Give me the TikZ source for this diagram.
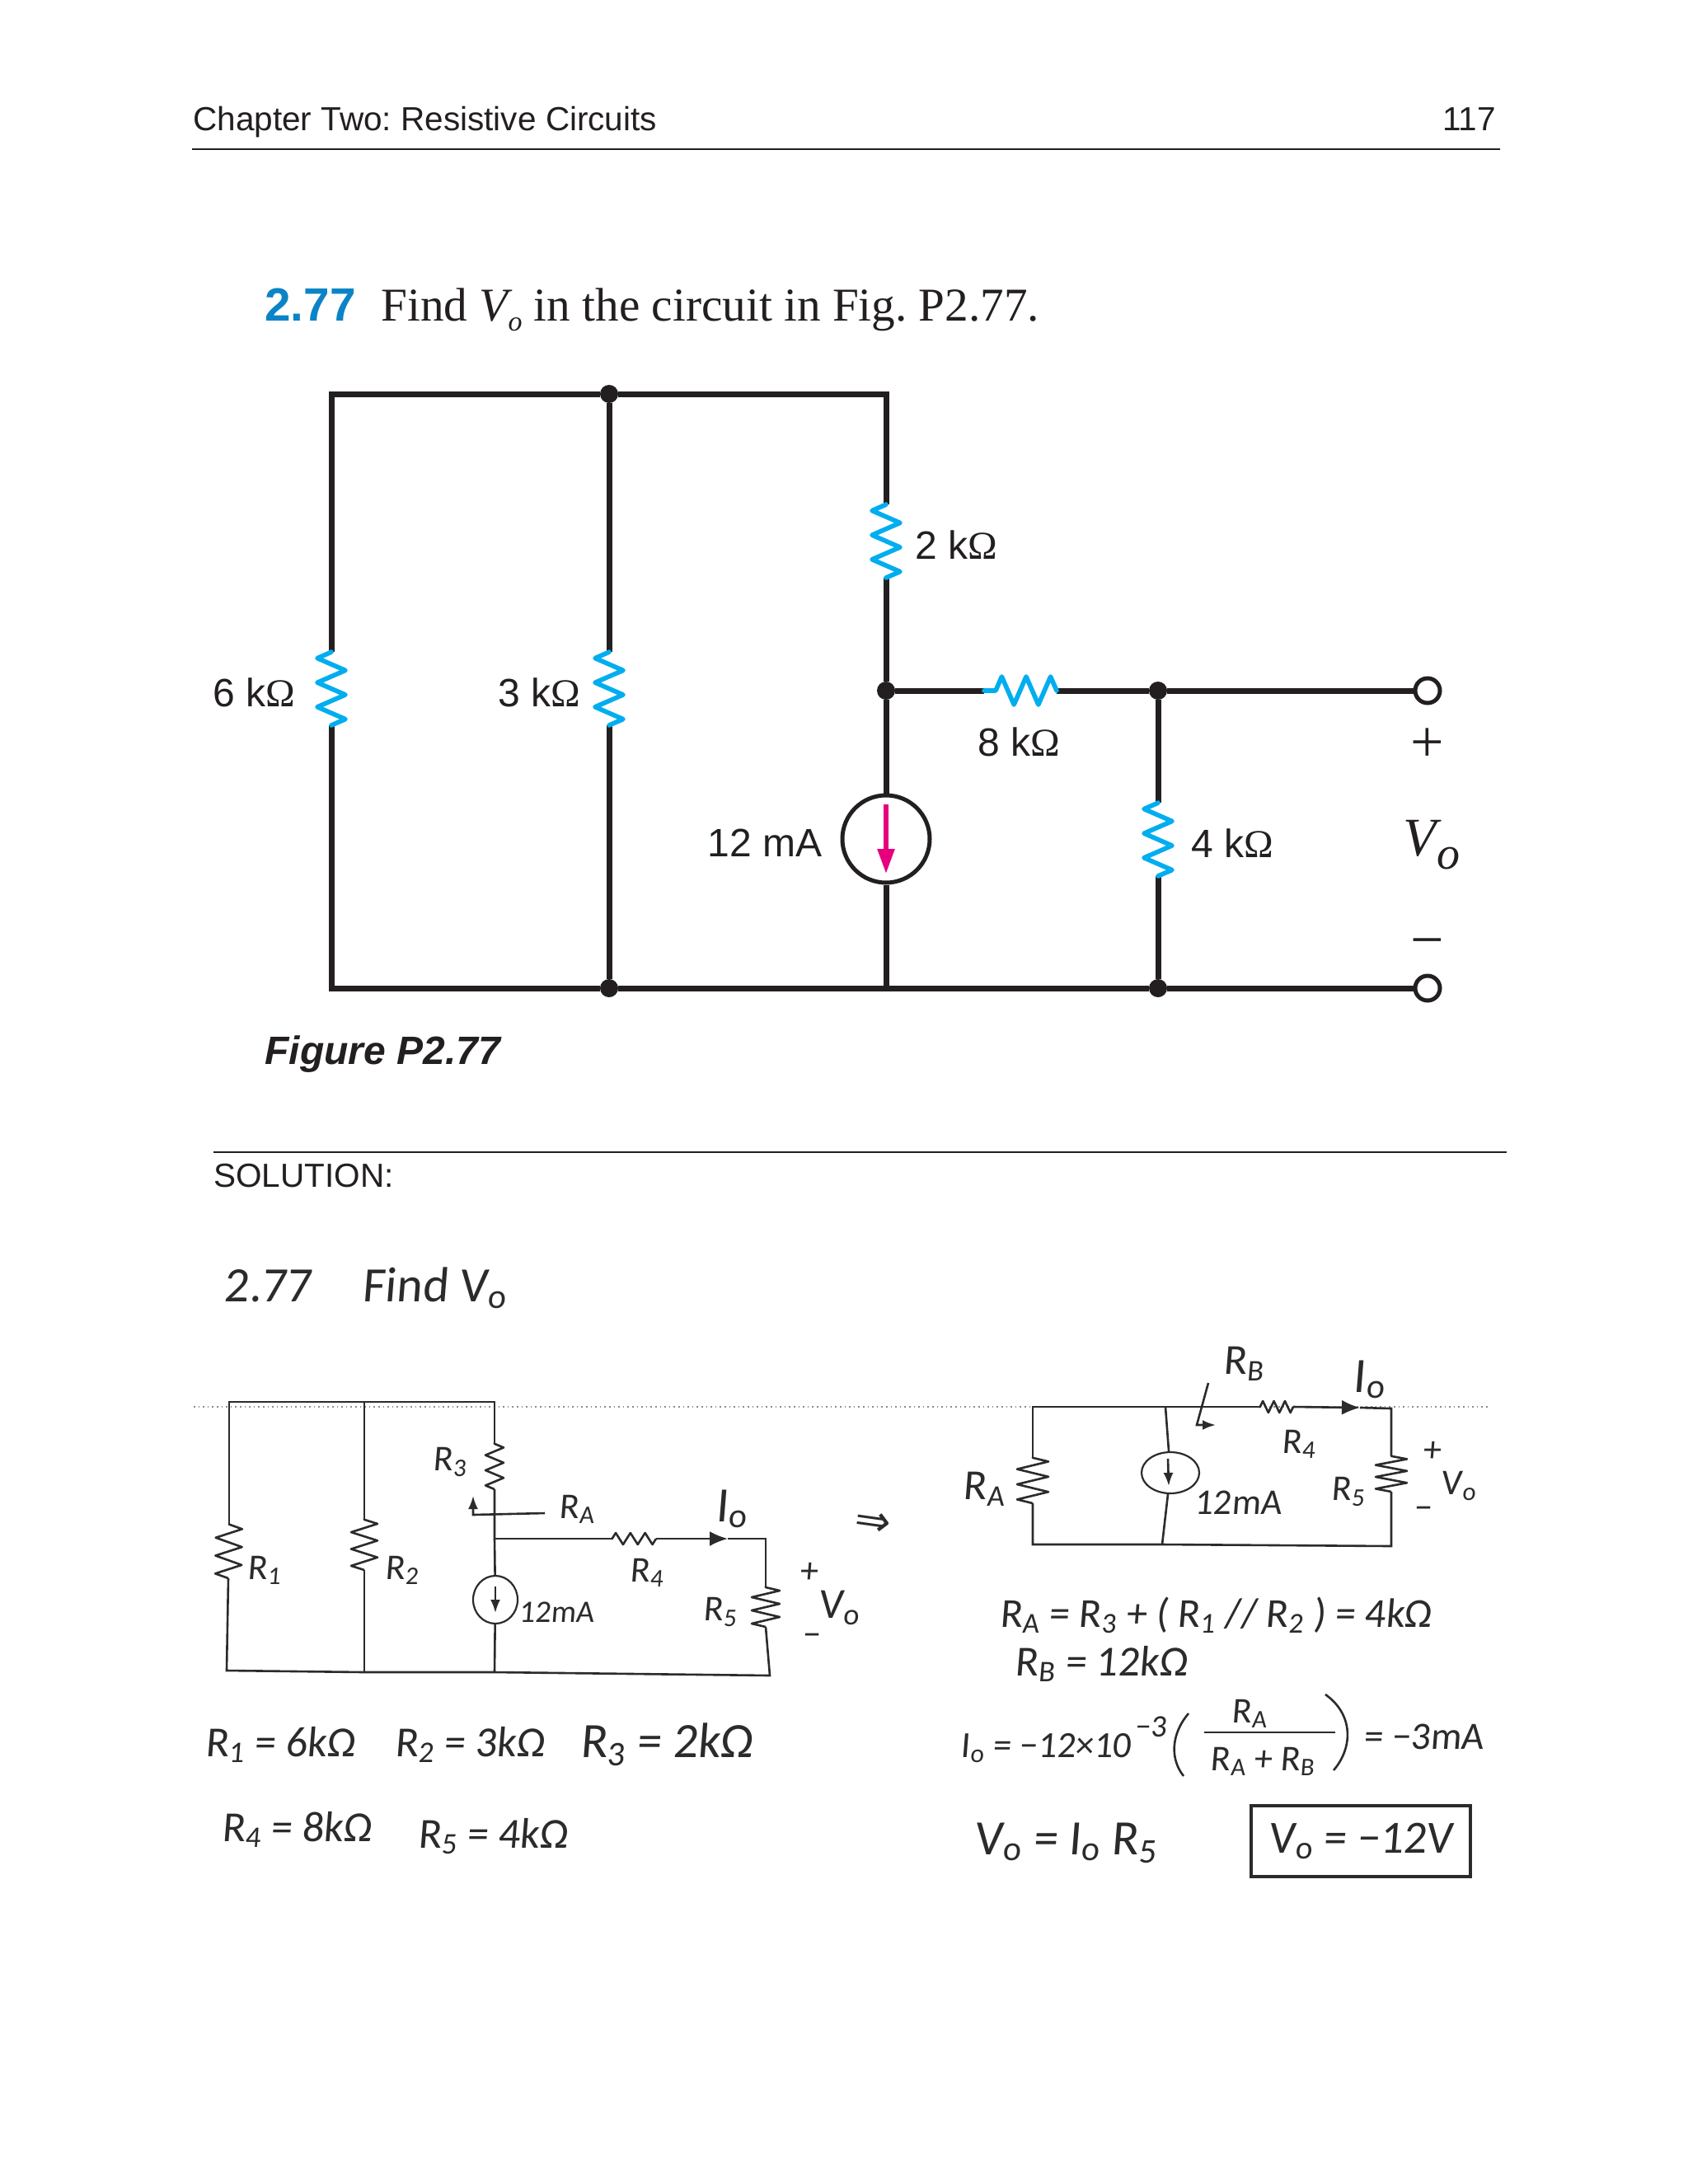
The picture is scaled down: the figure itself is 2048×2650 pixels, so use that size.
\documentclass[tikz,border=0pt]{standalone}
\usepackage{fontspec}
\setmainfont{Liberation Sans}
\newfontfamily\serifface{Liberation Serif}
\newfontfamily\handface[FakeSlant=0.08]{Carlito}
\newfontfamily\symface{DejaVu Sans}
\usepackage{tikz}
\usetikzlibrary{arrows.meta,decorations.pathmorphing,shapes.geometric}
\frenchspacing
\definecolor{ink}{HTML}{231F20}
\definecolor{resblue}{HTML}{00AEEF}
\definecolor{titleblue}{HTML}{0A84C6}
\definecolor{srcpink}{HTML}{E6007E}
\definecolor{handink}{HTML}{2B2B2B}
\newcommand{\Ohm}{{\serifface Ω}}
\newcommand{\hs}[1]{\textsubscript{#1}}
\tikzstyle{txt_base} = [inner sep=0pt, anchor=base west, text=ink]
\tikzstyle{txt_head} = [txt_base, font=\fontsize{20.25}{24}\selectfont]
\tikzstyle{txt_title} = [txt_base, font=\serifface\fontsize{28.6}{34}\selectfont]
\tikzstyle{txt_val} = [inner sep=0pt, text=ink, font=\fontsize{24}{28}\selectfont]
\tikzstyle{txt_sign} = [inner sep=0pt, text=ink, font=\serifface\fontsize{36}{40}\selectfont]
\tikzstyle{wire} = [line width=3.5pt, color=ink, line join=miter]
\tikzstyle{rule} = [line width=1pt, color=ink]
\tikzstyle{res_blue} = [line width=2.8pt, color=resblue, line join=round, line cap=round, decorate, decoration={zigzag, amplitude=-8.5pt, segment length=14.8pt}]
\tikzstyle{dot} = [circle, fill=ink, inner sep=0pt, minimum size=11pt]
\tikzstyle{term} = [circle, draw=ink, fill=white, line width=2.5pt, inner sep=0pt, minimum size=15pt]
\tikzstyle{src} = [circle, draw=ink, fill=white, line width=2.5pt, inner sep=0pt, minimum size=53pt]
\tikzstyle{src_arrow} = [line width=2.8pt, color=srcpink, -{Triangle[width=10pt,length=15pt]}]
\tikzstyle{hand_wire} = [line width=1.3pt, color=handink]
\tikzstyle{hand_arrow} = [hand_wire, -{Latex[length=8pt,width=6pt]}]
\tikzstyle{hand_tip} = [hand_wire, -{Latex[length=11pt,width=9pt]}]
\tikzstyle{hand_src} = [ellipse, draw=handink, line width=1.1pt, inner sep=0pt]
\tikzstyle{hand_s} = [inner sep=0pt, text=handink, font=\handface\fontsize{19}{22}\selectfont]
\tikzstyle{hand_m} = [inner sep=0pt, text=handink, font=\handface\fontsize{22}{26}\selectfont]
\tikzstyle{hand_l} = [inner sep=0pt, text=handink, font=\handface\fontsize{26}{30}\selectfont]
\tikzstyle{hand_xl} = [inner sep=0pt, text=handink, font=\handface\fontsize{30}{34}\selectfont]
\tikzstyle{scan_dots} = [line width=0.8pt, color=black!45, dotted]
\tikzset{hand_res/.style 2 args={line width=1.3pt, color=handink, line join=round, decorate, decoration={zigzag, amplitude=#1, segment length=#2}}}
\begin{document}
\begin{tikzpicture}[x=0.5pt,y=-0.5pt]
	\fill[white] (0,0) rectangle (2048,2650);
	\useasboundingbox (0,0) rectangle (2048,2650);

	\node (chapter) at (234,158) [txt_head] {Chapter Two: Resistive Circuits};
	\node (pageno) at (1815,158) [txt_head, anchor=base east] {117};
	\coordinate (headL) at (233,181);
	\coordinate (headR) at (1820,181);
	\draw[rule] (headL)--(headR);

	\node (probno) at (321,389) [txt_base, text=titleblue, font=\bfseries\fontsize{28.3}{34}\selectfont] {2.77};
	\node (probtext) at (462,389) [txt_title] {Find {\itshape V\raisebox{-6pt}{\fontsize{17}{20}\selectfont o}} in the circuit in Fig. P2.77.};

	\coordinate (TL) at (402,478);
	\node (JT) at (739,478) [dot] {};
	\coordinate (TR) at (1075,478);
	\coordinate (BL) at (402,1199);
	\node (JB) at (739,1199) [dot] {};
	\coordinate (JS) at (1075,1199);
	\node (JR) at (1405,1199) [dot] {};
	\node (TermB) at (1732,1199) [term] {};
	\node (JM) at (1075,838) [dot] {};
	\node (JN) at (1405,838) [dot] {};
	\node (TermA) at (1732,838) [term] {};
	\node (Src) at (1075,1018) [src] {};
	\coordinate (R6t) at (402,791);
	\coordinate (R6b) at (402,880);
	\coordinate (R3t) at (739,791);
	\coordinate (R3b) at (739,880);
	\coordinate (R2t) at (1075,612);
	\coordinate (R2b) at (1075,701);
	\coordinate (R8l) at (1194,838);
	\coordinate (R8r) at (1282,838);
	\coordinate (R4t) at (1405,974);
	\coordinate (R4b) at (1405,1063);
	\coordinate (SrcA) at (1075,976);
	\coordinate (SrcB) at (1075,1060);

	\draw[wire] (R6t)--(TL)--(JT)--(TR)--(R2t);
	\draw[wire] (JT)--(R3t);
	\draw[wire] (R6b)--(BL)--(JB)--(JS)--(JR)--(TermB);
	\draw[wire] (R3b)--(JB);
	\draw[wire] (R2b)--(JM)--(Src);
	\draw[wire] (Src)--(JS);
	\draw[wire] (JM)--(R8l);
	\draw[wire] (R8r)--(JN)--(TermA);
	\draw[wire] (JN)--(R4t);
	\draw[wire] (R4b)--(JR);
	\draw[res_blue] (R6b)--(R6t);
	\draw[res_blue] (R3b)--(R3t);
	\draw[res_blue] (R2b)--(R2t);
	\draw[res_blue] (R4b)--(R4t);
	\draw[res_blue] (R8r)--(R8l);
	\draw[src_arrow] (SrcA)--(SrcB);

	\node (lab6k) at (308,840) [txt_val] {6 k\Ohm};
	\node (lab3k) at (654,840) [txt_val] {3 k\Ohm};
	\node (lab2k) at (1160,661) [txt_val] {2 k\Ohm};
	\node (lab8k) at (1236,900) [txt_val] {8 k\Ohm};
	\node (lab4k) at (1495,1023) [txt_val] {4 k\Ohm};
	\node (lab12) at (928,1023) [txt_val] {12 mA};
	\node (plus) at (1732,904) [txt_sign] {+};
	\node (minus) at (1732,1152) [txt_sign] {−};
	\node (Vout) at (1737,1025) [inner sep=0pt, text=ink, font=\serifface\itshape\fontsize{33}{38}\selectfont] {V\raisebox{-8pt}{\fontsize{28}{32}\selectfont o}};

	\node (figcap) at (321,1291) [txt_base, font=\bfseries\itshape\fontsize{24}{28}\selectfont] {Figure P2.77};
	\coordinate (solL) at (259,1398);
	\coordinate (solR) at (1828,1398);
	\draw[rule] (solL)--(solR);
	\node (soltext) at (259,1440) [txt_head] {SOLUTION:};

	\coordinate (scanL) at (235,1707);
	\coordinate (scanR) at (1808,1707);
	\draw[scan_dots] (scanL)--(scanR);

	\node (handno) at (325,1560) [hand_xl] {2.77};
	\node (handfind) at (527,1563) [hand_xl] {Find V\hs{o}};

	\coordinate (aTL) at (278,1701);
	\coordinate (aTM) at (442,1701);
	\coordinate (aTR) at (600,1701);
	\coordinate (aBL) at (275,2027);
	\coordinate (aBM) at (442,2029);
	\coordinate (aBS) at (600,2029);
	\coordinate (aBR) at (934,2033);
	\coordinate (aR1t) at (278,1849);
	\coordinate (aR1b) at (277,1915);
	\coordinate (aR2t) at (442,1843);
	\coordinate (aR2b) at (442,1905);
	\coordinate (aR3t) at (600,1751);
	\coordinate (aR3b) at (600,1807);
	\coordinate (aJ) at (600,1867);
	\coordinate (aR4l) at (742,1867);
	\coordinate (aR4r) at (796,1867);
	\coordinate (aTip) at (883,1867);
	\coordinate (aCR) at (929,1867);
	\coordinate (aR5t) at (929,1925);
	\coordinate (aR5b) at (929,1974);
	\node (aSrc) at (601,1941) [hand_src, minimum width=54pt, minimum height=58pt, scale=0.5] {};
	\coordinate (aArrA) at (601,1925);
	\coordinate (aArrB) at (601,1957);
	\node (aRA) at (700,1831) [hand_m] {R\hs{A}};
	\coordinate (aRAs) at (661,1836);
	\coordinate (aRAk) at (574,1838);
	\coordinate (aRAup) at (574,1815);

	\draw[hand_wire] (aR1t)--(aTL)--(aTM)--(aTR)--(aR3t);
	\draw[hand_wire] (aTM)--(aR2t);
	\draw[hand_wire] (aR1b)--(aBL)--(aBM)--(aBS)--(aBR)--(aR5b);
	\draw[hand_wire] (aR2b)--(aBM);
	\draw[hand_wire] (aR3b)--(aJ)--(aSrc);
	\draw[hand_wire] (aSrc)--(aBS);
	\draw[hand_wire] (aJ)--(aR4l);
	\draw[hand_tip] (aR4r)--(aTip);
	\draw[hand_wire] (aTip)--(aCR)--(aR5t);
	\draw[hand_arrow] (aArrA)--(aArrB);
	\draw[hand_arrow] (aRAs)--(aRAk)--(aRAup);
	\draw[hand_res={8pt}{10.9pt}] (aR1b)--(aR1t);
	\draw[hand_res={8pt}{10.2pt}] (aR2b)--(aR2t);
	\draw[hand_res={5.5pt}{9.2pt}] (aR3b)--(aR3t);
	\draw[hand_res={8.5pt}{8pt}] (aR5b)--(aR5t);
	\draw[hand_res={3.5pt}{8.9pt}] (aR4r)--(aR4l);

	\node (aL1) at (321,1905) [hand_m] {R\hs{1}};
	\node (aL2) at (488,1905) [hand_m] {R\hs{2}};
	\node (aL3) at (546,1774) [hand_m] {R\hs{3}};
	\node (aL4) at (785,1908) [hand_m] {R\hs{4}};
	\node (aL5) at (874,1956) [hand_m] {R\hs{5}};
	\node (aLI) at (888,1831) [hand_xl] {I\hs{o}};
	\node (aL12) at (675,1956) [hand_s] {12mA};
	\node (aPlus) at (981,1908) [hand_m] {+};
	\node (aVo) at (1018,1951) [hand_l] {V\hs{o}};
	\node (aMinus) at (984,1990) [hand_m] {−};
	\node (aThen) at (1059,1849) [inner sep=0pt, text=handink, rotate=-8, font=\symface\fontsize{26}{30}\selectfont] {⇒};
	\node (aEq1) at (340,2117) [hand_l] {R\hs{1} = 6kΩ};
	\node (aEq2) at (570,2117) [hand_l] {R\hs{2} = 3kΩ};
	\node (aEq3) at (809,2117) [hand_xl] {R\hs{3} = 2kΩ};
	\node (aEq4) at (360,2220) [hand_l] {R\hs{4} = 8kΩ};
	\node (aEq5) at (598,2228) [hand_l] {R\hs{5} = 4kΩ};

	\coordinate (bTL) at (1253,1707);
	\coordinate (bTM) at (1414,1707);
	\coordinate (bBL) at (1253,1874);
	\coordinate (bBM) at (1410,1874);
	\coordinate (bBR) at (1688,1876);
	\coordinate (bRAt) at (1253,1768);
	\coordinate (bRAb) at (1253,1824);
	\coordinate (bR4l) at (1528,1707);
	\coordinate (bR4r) at (1569,1707);
	\coordinate (bTip) at (1650,1708);
	\coordinate (bCR) at (1688,1709);
	\coordinate (bR5t) at (1688,1766);
	\coordinate (bR5b) at (1688,1810);
	\node (bSrc) at (1420,1787) [hand_src, minimum width=70pt, minimum height=50pt, scale=0.5] {};
	\coordinate (bArrA) at (1417,1770);
	\coordinate (bArrB) at (1418,1803);
	\coordinate (bRBa) at (1466,1678);
	\coordinate (bRBk) at (1452,1729);
	\coordinate (bRBc) at (1475,1729);

	\draw[hand_wire] (bRAt)--(bTL)--(bTM)--(bR4l);
	\draw[hand_wire] (bRAb)--(bBL)--(bBM)--(bBR)--(bR5b);
	\draw[hand_wire] (bTM)--(bSrc);
	\draw[hand_wire] (bSrc)--(bBM);
	\draw[hand_tip] (bR4r)--(bTip);
	\draw[hand_wire] (bTip)--(bCR)--(bR5t);
	\draw[hand_arrow] (bArrA)--(bArrB);
	\draw[hand_arrow] (bRBa)--(bRBk)--(bRBc);
	\draw[hand_res={9.5pt}{9.2pt}] (bRAb)--(bRAt);
	\draw[hand_res={9.5pt}{7.2pt}] (bR5b)--(bR5t);
	\draw[hand_res={3.5pt}{6.7pt}] (bR4r)--(bR4l);

	\node (bLA) at (1194,1807) [hand_l] {R\hs{A}};
	\node (bLB) at (1509,1655) [hand_l] {R\hs{B}};
	\node (bLI) at (1661,1674) [hand_xl] {I\hs{o}};
	\node (bL4) at (1576,1752) [hand_m] {R\hs{4}};
	\node (bL12) at (1502,1823) [hand_m] {12mA};
	\node (bL5) at (1636,1810) [hand_m] {R\hs{5}};
	\node (bPlus) at (1737,1761) [hand_m] {+};
	\node (bVo) at (1770,1803) [hand_m] {V\hs{o}};
	\node (bMinus) at (1726,1836) [hand_m] {−};

	\node (bEqA) at (1475,1960) [inner sep=0pt, text=handink, font=\handface\fontsize{25}{30}\selectfont] {R\hs{A} = R\hs{3} + ( R\hs{1} // R\hs{2} ) = 4kΩ};
	\node (bEqB) at (1336,2019) [hand_l] {R\hs{B} = 12kΩ};
	\node (bEqI) at (1269,2121) [inner sep=0pt, text=handink, font=\handface\fontsize{22.4}{26}\selectfont] {I\hs{o} = −12×10};
	\node (bExp) at (1396,2095) [hand_s] {−3};
	\coordinate (bPLa) at (1442,2079);
	\coordinate (bPLb) at (1436,2155);
	\coordinate (bPRa) at (1608,2056);
	\coordinate (bPRb) at (1618,2148);
	\draw[hand_wire] (bPLa) .. controls (1420,2105) and (1420,2135) .. (bPLb);
	\draw[hand_wire] (bPRa) .. controls (1642,2080) and (1642,2120) .. (bPRb);
	\node (bFrN) at (1516,2079) [hand_m] {R\hs{A}};
	\coordinate (bFrL) at (1461,2102);
	\coordinate (bFrR) at (1620,2102);
	\draw[hand_wire] (bFrL)--(bFrR);
	\node (bFrD) at (1532,2137) [hand_m] {R\hs{A} + R\hs{B}};
	\node (bEq3m) at (1727,2107) [inner sep=0pt, text=handink, font=\handface\fontsize{23.5}{28}\selectfont] {= −3mA};
	\node (bEqV) at (1293,2236) [hand_xl] {V\hs{o} = I\hs{o} R\hs{5}};
	\node (bBox) at (1651,2234) [draw=handink, line width=1.6pt, minimum width=133pt, minimum height=43pt, inner sep=0pt, text=handink, font=\handface\fontsize{28}{32}\selectfont] {V\hs{o} = −12V};
\end{tikzpicture}
\end{document}
